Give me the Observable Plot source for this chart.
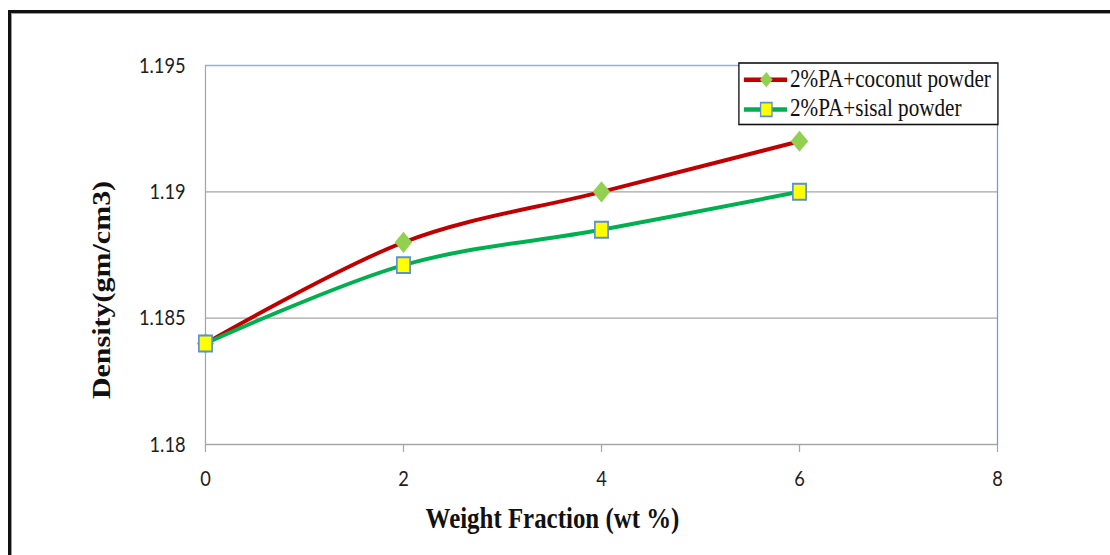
<!DOCTYPE html>
<html><head><meta charset="utf-8">
<script src="https://cdn.jsdelivr.net/npm/d3@7"></script>
<script src="https://cdn.jsdelivr.net/npm/@observablehq/plot@0.6"></script>
<style>
html,body{margin:0;padding:0;background:#fff;overflow:hidden;width:1110px;height:555px;}
#frame{position:absolute;left:8px;top:10px;width:2000px;height:2000px;border:3px solid #111;box-shadow:inset 1px 1px 0 #9a9a9a;}
#stage{position:absolute;left:0;top:0;width:1337px;height:555px;transform:scaleX(0.83022);transform-origin:0 0;}
#stage svg{background:transparent;max-width:none;}
</style></head>
<body>
<div id="frame"></div>
<div id="stage"></div>
<script>
// ---- data ----
const weightFraction = [0, 2, 4, 6];
const coconutDensity = [1.184, 1.188, 1.190, 1.192];
const sisalDensity = [1.184, 1.1871, 1.1885, 1.190];
const seriesNames = ["2%PA+coconut powder", "2%PA+sisal powder"];
const xTicks = [0, 2, 4, 6, 8];
const xTickLabels = ["0", "2", "4", "6", "8"];
const yTicks = [1.18, 1.185, 1.19, 1.195];
const yTickLabels = ["1.18", "1.185", "1.19", "1.195"];
const xTitle = "Weight Fraction (wt %)";
const yTitle = "Density(gm/cm3)";

const coconut = weightFraction.map((x, i) => ({x, y: coconutDensity[i], s: seriesNames[0]}));
const sisal = weightFraction.map((x, i) => ({x, y: sisalDensity[i], s: seriesNames[1]}));

const RED = "#c00000", GREEN = "#00b050", DIAMOND = "#92d050", YELLOW = "#ffff00", SQSTROKE = "#5b8fd6";
const GRAY = "#a6a6a6";

const chart = Plot.plot({
  width: 1337, height: 555,
  marginLeft: 247, marginRight: 136, marginTop: 65, marginBottom: 111,
  style: {fontFamily: "Lato, 'Open Sans', sans-serif", fontSize: "22px", color: "#1e1e1e", background: "transparent"},
  x: {domain: [0, 8], label: null},
  y: {domain: [1.18, 1.195], label: null},
  marks: [
    Plot.gridY([yTicks[1], yTicks[2]], {stroke: GRAY, strokeOpacity: 1, strokeWidth: 1.3}),
    Plot.ruleY([yTicks[0]], {stroke: GRAY, strokeWidth: 1.3}),
    Plot.ruleY([yTicks[3]], {stroke: "#8db4e2", strokeWidth: 1.3}),
    Plot.ruleX([xTicks[4]], {stroke: "#6f9bd6", strokeWidth: 1.5}),
    Plot.ruleX([xTicks[0]], {stroke: GRAY, strokeWidth: 1.5}),
    Plot.axisX(xTicks, {tickSize: 8, tickPadding: 18, stroke: GRAY, strokeWidth: 1.5, fill: "#1e1e1e",
      tickFormat: d => xTickLabels[xTicks.indexOf(d)], label: null}),
    Plot.axisY(yTicks, {tickSize: 0, tickPadding: 24, fill: "#1e1e1e",
      tickFormat: d => yTickLabels[yTicks.indexOf(d)], label: null}),
    Plot.line(coconut, {x: "x", y: "y", stroke: RED, strokeWidth: 4, curve: "cardinal"}),
    Plot.dot(coconut, {x: "x", y: "y", symbol: "diamond2", r: 9.5, fill: DIAMOND, stroke: "none"}),
    Plot.line(sisal, {x: "x", y: "y", stroke: GREEN, strokeWidth: 4, curve: "cardinal"}),
    Plot.dot(sisal, {x: "x", y: "y", symbol: "square", r: 9, fill: YELLOW, stroke: SQSTROKE, strokeWidth: 2})
  ]
});

const svg = d3.select(chart);
// axis titles
svg.append("text")
  .attr("x", 665.5).attr("y", 528)
  .attr("text-anchor", "middle")
  .style("font-family", "'Liberation Serif', 'DejaVu Serif', serif")
  .style("font-weight", "bold").style("font-size", "30px").attr("fill", "#111")
  .text(xTitle);
svg.append("text")
  .attr("transform", "translate(133,290) rotate(-90)")
  .attr("text-anchor", "middle")
  .style("font-family", "'Liberation Serif', 'DejaVu Serif', serif")
  .style("font-weight", "bold").style("font-size", "30px").attr("fill", "#111")
  .text(yTitle);

// legend
const lg = svg.append("g").attr("transform", "translate(890,63)");
lg.append("rect").attr("width", 312).attr("height", 61.5)
  .attr("fill", "#fff").attr("stroke", "#111").attr("stroke-width", 1.6);
const rows = [
  {name: seriesNames[0], color: RED, cy: 16.7, base: 23.8, sym: d3.symbolDiamond2, size: 150, fill: DIAMOND, stroke: "none"},
  {name: seriesNames[1], color: GREEN, cy: 46.5, base: 53.4, sym: d3.symbolSquare, size: 190, fill: YELLOW, stroke: SQSTROKE}
];
rows.forEach(r => {
  lg.append("line").attr("x1", 6).attr("x2", 58).attr("y1", r.cy).attr("y2", r.cy)
    .attr("stroke", r.color).attr("stroke-width", 4.5);
  lg.append("path").attr("d", d3.symbol(r.sym, r.size)())
    .attr("transform", `translate(33,${r.cy})`)
    .attr("fill", r.fill).attr("stroke", r.stroke).attr("stroke-width", 1.6);
  lg.append("text").attr("x", 61.5).attr("y", r.base)
    .attr("text-anchor", "start")
    .style("font-family", "'Liberation Serif', 'DejaVu Serif', serif")
    .style("font-size", "25.5px").attr("fill", "#111")
    .text(r.name);
});

document.getElementById("stage").appendChild(chart);
</script>
</body></html>
